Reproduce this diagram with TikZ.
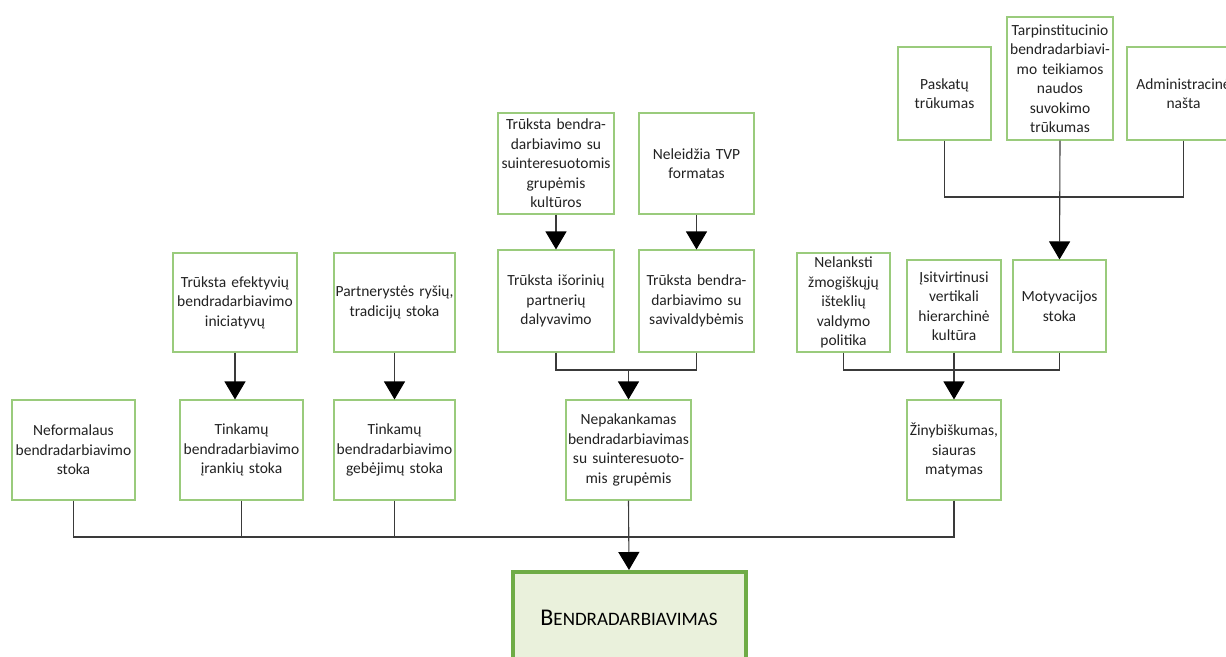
\documentclass[tikz,border=0pt]{standalone}
\usepackage{fontspec}
\setmainfont{Carlito}
\usetikzlibrary{arrows.meta}
\definecolor{boxgreen}{HTML}{9ACB7C}
\definecolor{maingreen}{HTML}{6FAC46}
\definecolor{mainfill}{HTML}{EAF1DC}
\definecolor{linegray}{HTML}{3A3A3A}
\definecolor{txt}{HTML}{222222}
\tikzset{
  box/.style={draw=boxgreen, line width=1.1pt, fill=white, inner sep=0pt, align=center,
    text=txt, font=\fontsize{15.5}{19.5}\selectfont},
  link/.style={draw=linegray, line width=1.1pt},
  arr/.style={link, -{Triangle[width=21pt,length=18pt,color=black]}},
}
\begin{document}
\begin{tikzpicture}[x=1pt,y=-1pt]
\useasboundingbox (0,0) rectangle (1226,656);
% top right
\node[box, minimum width=93pt, minimum height=93pt, text width=90pt] (pask) at (944.5,93.5) {Paskatų\\trūkumas};
\node[box, minimum width=106pt, minimum height=123pt, text width=104pt] (tarp) at (1060,78.5) {Tarpinstitucinio\\bendradarbiavi-\\mo teikiamos\\naudos\\suvokimo\\trūkumas};
\node[box, minimum width=113pt, minimum height=93pt, text width=110pt] (admin) at (1183.5,93.5) {Administracinė\\našta};
% middle top
\node[box, minimum width=116pt, minimum height=101pt, text width=114pt] (kult) at (556,163.5) {Trūksta bendra-\\darbiavimo su\\suinteresuotomis\\grupėmis\\kultūros};
\node[box, minimum width=115pt, minimum height=101pt, text width=113pt] (tvp) at (696.5,163.5) {Neleidžia TVP\\formatas};
\node[box, minimum width=116pt, minimum height=102pt, text width=114pt] (isor) at (556,301) {Trūksta išorinių\\partnerių\\dalyvavimo};
\node[box, minimum width=115pt, minimum height=102pt, text width=113pt] (saviv) at (696.5,301) {Trūksta bendra-\\darbiavimo su\\savivaldybėmis};
\node[box, minimum width=125pt, minimum height=100pt, text width=123pt] (nepak) at (628.5,450) {Nepakankamas\\bendradarbiavimas\\su suinteresuoto-\\mis grupėmis};
% right
\node[box, minimum width=93pt, minimum height=99pt, text width=91pt] (nelank) at (843.5,302.5) {Nelanksti\\žmogiškųjų\\išteklių\\valdymo\\politika};
\node[box, minimum width=94pt, minimum height=92pt, text width=92pt] (isitv) at (954,306) {Įsitvirtinusi\\vertikali\\hierarchinė\\kultūra};
\node[box, minimum width=93pt, minimum height=92pt, text width=91pt] (motyv) at (1059.5,306) {Motyvacijos\\stoka};
\node[box, minimum width=94pt, minimum height=100pt, text width=92pt] (zinyb) at (954,450) {Žinybiškumas,\\siauras\\matymas};
% left
\node[box, minimum width=124pt, minimum height=99pt, text width=122pt] (efekt) at (235,302.5) {Trūksta efektyvių\\bendradarbiavimo\\iniciatyvų};
\node[box, minimum width=121pt, minimum height=99pt, text width=119pt] (partn) at (394.5,302.5) {Partnerystės ryšių,\\tradicijų stoka};
\node[box, minimum width=123pt, minimum height=100pt, text width=121pt] (neform) at (73.5,450) {Neformalaus\\bendradarbiavimo\\stoka};
\node[box, minimum width=123pt, minimum height=100pt, text width=121pt] (irank) at (241.5,450) {Tinkamų\\bendradarbiavimo\\įrankių stoka};
\node[box, minimum width=121pt, minimum height=100pt, text width=119pt] (gebej) at (394.5,450) {Tinkamų\\bendradarbiavimo\\gebėjimų stoka};
% main
\node[draw=maingreen, line width=4pt, fill=mainfill, minimum width=233pt, minimum height=92pt, inner sep=0pt, text=black] (bendr) at (629,618)
  {{\fontsize{24}{28}\selectfont B}{\fontsize{19}{28}\selectfont ENDRADARBIAVIMAS}};
% junctions
\coordinate (j1) at (628.5,370);
\coordinate (j2) at (1060,197);
\coordinate (j3) at (954,370);
\coordinate (j4) at (628.5,537);
% connectors
\draw[arr] (kult) -- (isor);
\draw[arr] (tvp) -- (saviv);
\draw[arr] (efekt.south) -- (efekt.south |- irank.north);
\draw[arr] (partn) -- (gebej);
\draw[link] (isor.south) |- (j1);
\draw[link] (saviv.south) |- (j1);
\draw[arr] (j1) -- (nepak.north);
\draw[link] (pask.south) |- (j2);
\draw[link] (admin.south) |- (j2);
\draw[arr] (tarp.south) -- (motyv.north);
\draw[link] (nelank.south) |- (j3);
\draw[link] (motyv.south) |- (j3);
\draw[arr] (isitv.south) -- (zinyb.north);
\draw[link] (neform.south) |- (j4);
\draw[link] (irank.south) |- (j4);
\draw[link] (gebej.south) |- (j4);
\draw[link] (zinyb.south) |- (j4);
\draw[arr] (nepak.south) -- (bendr.north);
\end{tikzpicture}
\end{document}
